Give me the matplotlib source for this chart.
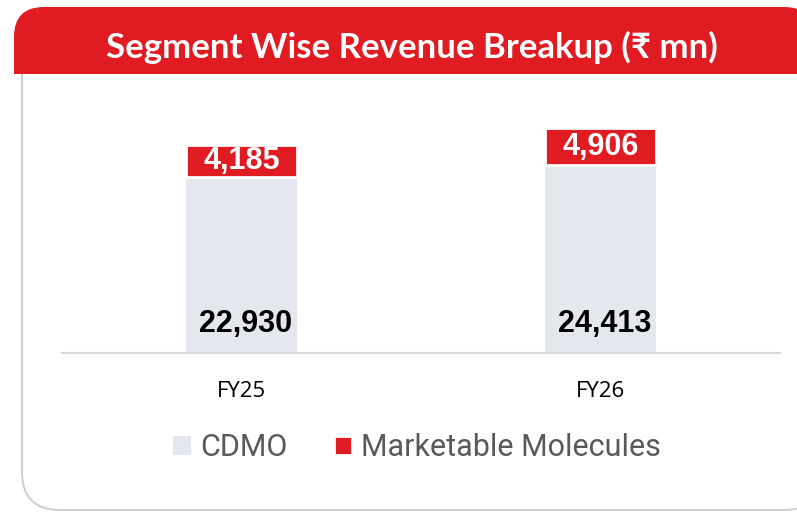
import matplotlib.pyplot as plt
from matplotlib.patches import FancyBboxPatch, Rectangle

years = ['FY25', 'FY26']
cdmo = [22930, 24413]
molecules = [4185, 4906]

RED = '#E01B22'
GREY = '#E4E7EE'

fig = plt.figure(figsize=(7.97, 5.12), dpi=100)

# background card drawn in pixel units
bg = fig.add_axes([0, 0, 1, 1], zorder=0)
bg.set_xlim(0, 797)
bg.set_ylim(512, 0)
bg.axis('off')
bg.add_patch(FancyBboxPatch((22, 40), 800, 470, boxstyle='round,pad=0,rounding_size=38',
                            fc='white', ec='#D0D0D0', lw=1.5))
bg.add_patch(FancyBboxPatch((14, 7), 800, 67, boxstyle='round,pad=0,rounding_size=30',
                            fc=RED, ec='none'))
bg.add_patch(Rectangle((14, 45), 800, 29, fc=RED, ec='none'))
bg.text(412, 47, 'Segment Wise Revenue Breakup (₹ mn)', color='white', fontsize=25,
        fontweight='bold', ha='center', va='center', family=['Lato', 'DejaVu Sans'])

ax = fig.add_axes([62 / 797, 1 - 353 / 512, 718 / 797, 246 / 512], zorder=1)
ax.patch.set_alpha(0)
x = range(len(years))
b1 = ax.bar(x, cdmo, width=0.31, color=GREY, label='CDMO')
b2 = ax.bar(x, molecules, bottom=cdmo, width=0.31, color=RED, edgecolor='white',
            linewidth=2, label='Marketable Molecules')
ax.set_xlim(-0.5, 1.5)
ax.set_ylim(0, 32000)

for i in x:
    ax.text(i + 0.012, 3800, f'{cdmo[i]:,}', ha='center', va='center', fontsize=22,
            fontweight='bold', color='black', family='Liberation Sans')
    ax.text(i, cdmo[i] + molecules[i] / 2 - 100, f'{molecules[i]:,}', ha='center', va='center',
            fontsize=22, fontweight='bold', color='white', family='Liberation Sans')

for s in ['top', 'right', 'left']:
    ax.spines[s].set_visible(False)
ax.spines['bottom'].set_color('#D9D9D9')
ax.spines['bottom'].set_linewidth(1.5)
ax.set_yticks([])
ax.set_xticks(list(x))
ax.set_xticklabels(years, fontsize=16, family='Open Sans')
ax.tick_params(axis='x', length=0, pad=20)

leg = fig.legend(handles=[b1, b2], loc='center', bbox_to_anchor=(417 / 797, 1 - 448 / 512),
                 ncol=2, frameon=False, handlelength=0.6, handleheight=0.6,
                 handletextpad=0.3, columnspacing=1.5, prop={'family': 'Roboto', 'size': 22})
for t in leg.get_texts():
    t.set_color('#595959')

fig.savefig('out.png', dpi=100)
